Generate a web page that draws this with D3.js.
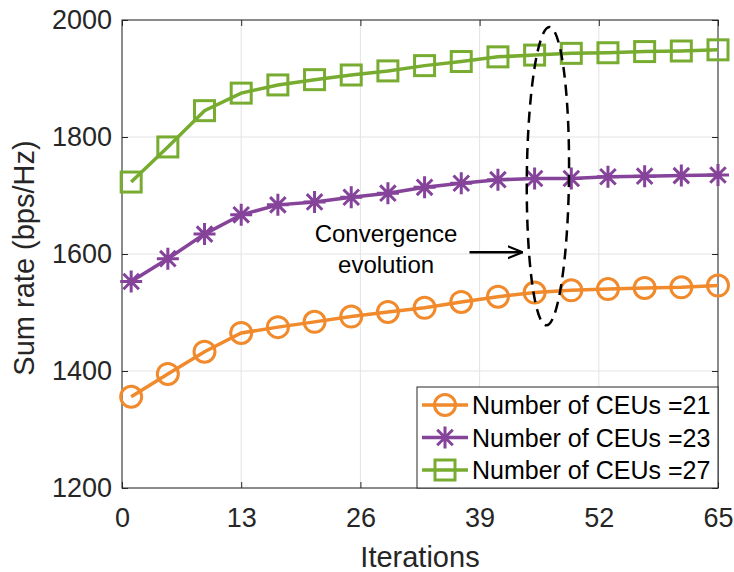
<!DOCTYPE html>
<html>
<head>
<meta charset="utf-8">
<script src="https://cdnjs.cloudflare.com/ajax/libs/d3/7.8.5/d3.min.js"></script>
<style>
  body { margin: 0; background: #fff; }
  svg { font-family: "Liberation Sans", Arial, Helvetica, sans-serif; }
</style>
</head>
<body>
<div id="chart"></div>
<script>
// Data
let iterations = [1, 5, 9, 13, 17, 21, 25, 29, 33, 37, 41, 45, 49, 53, 57, 61, 65];
let rateCEU21 = [1356, 1395, 1433, 1465, 1475, 1484, 1493, 1501, 1508, 1518, 1527, 1534, 1538, 1540, 1542, 1543, 1546];
let rateCEU23 = [1553, 1592, 1634, 1667, 1684, 1689, 1697, 1704, 1714, 1721, 1727, 1729, 1729, 1732, 1733, 1734, 1735];
let rateCEU27 = [1723, 1783, 1845, 1875, 1889, 1898, 1906, 1913, 1922, 1929, 1937, 1940, 1943, 1944, 1946, 1947, 1949];
let seriesNames = ["Number of CEUs =21", "Number of CEUs =23", "Number of CEUs =27"];
let xTicks = [0, 13, 26, 39, 52, 65];
let yTicks = [1200, 1400, 1600, 1800, 2000];

// annotation (data units): ellipse centre/radii, text anchor, arrow
let convEllipse = { x: 46.45, y: 1733, rx: 2.3, ry: 255 };
let convText = { x: 28.8, y: 1621, lines: ["Convergence", "evolution"] };
let convArrow = { x1: 37.9, x2: 43.7, y: 1603 };

let width = 734, height = 572;
let margin = { left: 122, right: 16, top: 20, bottom: 84 };

let svg = d3.select("#chart").append("svg")
  .attr("width", width)
  .attr("height", height);

let x = d3.scaleLinear().domain([0, 65]).range([margin.left, width - margin.right]);
let y = d3.scaleLinear().domain([1200, 2000]).range([height - margin.bottom, margin.top]);

let axisColor = "#262626";
let format = d3.format("d");

// Grid
let grid = svg.append("g").attr("stroke", "#e3e3e3").attr("stroke-width", 1);
grid.selectAll(".vx").data(xTicks).enter().append("line")
  .attr("x1", d => x(d)).attr("x2", d => x(d))
  .attr("y1", y(1200)).attr("y2", y(2000));
grid.selectAll(".hy").data(yTicks).enter().append("line")
  .attr("x1", x(0)).attr("x2", x(65))
  .attr("y1", d => y(d)).attr("y2", d => y(d));

// Axes (ticks inward)
function styleAxis(g, showText) {
  g.select(".domain").remove();
  g.selectAll(".tick line").attr("stroke", axisColor);
  g.selectAll(".tick text")
    .attr("fill", axisColor)
    .attr("font-size", "27px");
  if (!showText) g.selectAll(".tick text").remove();
}

svg.append("g")
  .attr("transform", `translate(0,${y(1200)})`)
  .call(d3.axisBottom(x).tickValues(xTicks).tickFormat(format).tickSize(-6).tickPadding(20))
  .call(g => styleAxis(g, true));
svg.append("g")
  .attr("transform", `translate(0,${y(2000)})`)
  .call(d3.axisTop(x).tickValues(xTicks).tickSize(-6))
  .call(g => styleAxis(g, false));
svg.append("g")
  .attr("transform", `translate(${x(0)},0)`)
  .call(d3.axisLeft(y).tickValues(yTicks).tickFormat(format).tickSize(-6).tickPadding(10))
  .call(g => styleAxis(g, true));
svg.append("g")
  .attr("transform", `translate(${x(65)},0)`)
  .call(d3.axisRight(y).tickValues(yTicks).tickSize(-6))
  .call(g => styleAxis(g, false));

// Box
svg.append("rect")
  .attr("x", x(0)).attr("y", y(2000))
  .attr("width", x(65) - x(0)).attr("height", y(1200) - y(2000))
  .attr("fill", "none").attr("stroke", axisColor).attr("stroke-width", 1);

// Axis labels
svg.append("text")
  .attr("x", (x(0) + x(65)) / 2).attr("y", 567)
  .attr("text-anchor", "middle")
  .attr("font-size", "29px").attr("fill", axisColor)
  .text("Iterations");
svg.append("text")
  .attr("transform", `translate(34,${(y(1200) + y(2000)) / 2 + 4}) rotate(-90)`)
  .attr("text-anchor", "middle")
  .attr("font-size", "29px").attr("fill", axisColor)
  .text("Sum rate (bps/Hz)");

// Markers
function drawMarker(g, kind, color) {
  if (kind === "circle") {
    g.append("circle").attr("r", 10.5)
      .attr("fill", "none").attr("stroke", color).attr("stroke-width", 3);
  } else if (kind === "square") {
    g.append("rect").attr("x", -10).attr("y", -10).attr("width", 20).attr("height", 20)
      .attr("fill", "none").attr("stroke", color).attr("stroke-width", 3);
  } else {
    let r = 11, d = r * 0.707;
    g.append("path")
      .attr("d", `M${-r},0L${r},0M0,${-r}L0,${r}M${-d},${-d}L${d},${d}M${-d},${d}L${d},${-d}`)
      .attr("stroke", color).attr("stroke-width", 3).attr("fill", "none");
  }
}

let series = [
  { name: seriesNames[0], values: rateCEU21, color: "#f08a2c", marker: "circle" },
  { name: seriesNames[1], values: rateCEU23, color: "#85439a", marker: "star" },
  { name: seriesNames[2], values: rateCEU27, color: "#77ac30", marker: "square" }
];

let line = d3.line().x((d, i) => x(iterations[i])).y(d => y(d));

series.forEach(s => {
  svg.append("path")
    .datum(s.values)
    .attr("d", line)
    .attr("fill", "none")
    .attr("stroke", s.color)
    .attr("stroke-width", 3.5);
  svg.append("g").selectAll("g")
    .data(s.values)
    .enter()
    .append("g")
    .attr("transform", (d, i) => `translate(${x(iterations[i])},${y(d)})`)
    .each(function () { drawMarker(d3.select(this), s.marker, s.color); });
});

// Convergence annotation
let ecx = x(convEllipse.x), ecy = y(convEllipse.y);
svg.append("ellipse")
  .attr("cx", ecx).attr("cy", ecy)
  .attr("rx", x(convEllipse.x + convEllipse.rx) - ecx)
  .attr("ry", ecy - y(convEllipse.y + convEllipse.ry))
  .attr("transform", `rotate(0.6,${ecx},${ecy})`)
  .attr("fill", "none")
  .attr("stroke", "#000")
  .attr("stroke-width", 2.5)
  .attr("stroke-dasharray", "11,7");

svg.append("text")
  .attr("x", x(convText.x)).attr("y", y(convText.y))
  .attr("text-anchor", "middle")
  .attr("font-size", "24px").attr("fill", "#000")
  .selectAll("tspan")
  .data(convText.lines)
  .enter()
  .append("tspan")
  .attr("x", x(convText.x))
  .attr("dy", (d, i) => i === 0 ? 0 : "1.3em")
  .text(d => d);

svg.append("defs").append("marker")
  .attr("id", "arrowHead")
  .attr("viewBox", "0 0 10 10")
  .attr("refX", 10).attr("refY", 5)
  .attr("markerWidth", 6).attr("markerHeight", 6)
  .attr("markerUnits", "strokeWidth")
  .attr("orient", "auto")
  .append("path")
  .attr("d", "M0,1L10,5L0,9")
  .attr("fill", "none").attr("stroke", "#000").attr("stroke-width", 1.4);

svg.append("line")
  .attr("x1", x(convArrow.x1)).attr("x2", x(convArrow.x2))
  .attr("y1", y(convArrow.y)).attr("y2", y(convArrow.y))
  .attr("stroke", "#000").attr("stroke-width", 2.5)
  .attr("marker-end", "url(#arrowHead)");

// Legend
let legend = svg.append("g").attr("transform", "translate(417,387)");
legend.append("rect")
  .attr("width", x(65) - 417).attr("height", y(1200) - 387)
  .attr("fill", "#fff").attr("stroke", axisColor).attr("stroke-width", 1);

let legendRows = legend.selectAll(".row")
  .data(series)
  .enter()
  .append("g")
  .attr("transform", (d, i) => `translate(0,${18 + i * 32.5})`);

legendRows.append("line")
  .attr("x1", 5).attr("x2", 51)
  .attr("stroke", d => d.color).attr("stroke-width", 3.5);
legendRows.append("g")
  .attr("transform", "translate(28,0)")
  .each(function (d) { drawMarker(d3.select(this), d.marker, d.color); });
legendRows.append("text")
  .attr("x", 55).attr("dy", "0.36em")
  .attr("font-size", "25px").attr("fill", "#000")
  .text(d => d.name);
</script>
</body>
</html>
